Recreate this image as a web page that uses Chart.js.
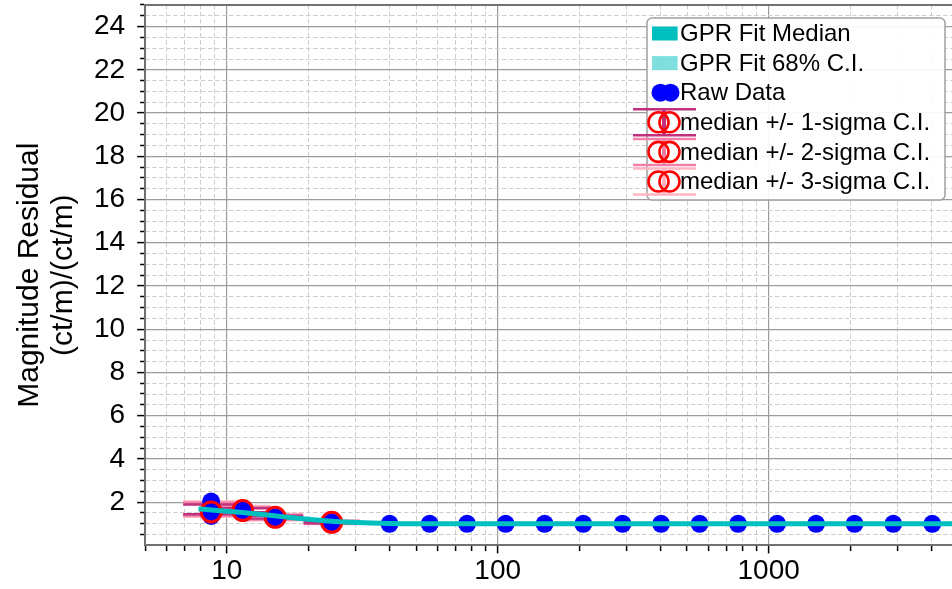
<!DOCTYPE html>
<html>
<head>
<meta charset="utf-8">
<script src="https://cdn.jsdelivr.net/npm/chart.js@4/dist/chart.umd.min.js"></script>
<style>
html,body{margin:0;padding:0;background:#fff;overflow:hidden}
#wrap{width:952px;height:589px;position:relative}
canvas{display:block}
</style>
</head>
<body>
<div id="wrap"><canvas id="c" width="952" height="589"></canvas></div>
<script>
// ---------- data ----------
const rawX = [8.76, 8.76, 8.76, 11.46, 15.1, 24.4, 39.9, 56.1, 77.1, 107, 149, 207, 289, 401, 556, 771, 1075, 1497, 2075, 2884, 4018];
const rawY = [2.03, 1.55, 1.36, 1.61, 1.30, 1.07, 1.0, 1.0, 1.0, 1.0, 1.0, 1.0, 1.0, 1.0, 1.0, 1.0, 1.0, 1.0, 1.0, 1.0, 1.0];

const medX = [8.76, 11.46, 15.1, 24.4];
const medY = [1.55, 1.61, 1.30, 1.07];
const sig1Lo = [1.44, 1.53, 1.24, 1.03];
const sig1Hi = [1.89, 1.72, 1.37, 1.11];
const sig2Lo = [1.38, 1.49, 1.20, 1.01];
const sig2Hi = [1.97, 1.77, 1.41, 1.13];
const sig3Lo = [1.33, 1.45, 1.16, 0.99];
const sig3Hi = [2.03, 1.82, 1.45, 1.15];

const gprX   = [7.87, 9.0, 10.0, 11.5, 13.0, 15.0, 17.5, 20.0, 24.4, 29.0, 34.0, 40.0, 50.0, 70.0, 100, 300, 1000, 3000, 4750];
const gprMed = [1.69, 1.63, 1.58, 1.52, 1.45, 1.37, 1.28, 1.21, 1.12, 1.07, 1.035, 1.012, 1.00, 1.00, 1.00, 1.00, 1.00, 1.00, 1.00];
const gprLo  = [1.59, 1.55, 1.51, 1.46, 1.40, 1.33, 1.25, 1.18, 1.10, 1.05, 1.015, 0.99, 0.98, 0.98, 0.98, 0.98, 0.98, 0.98, 0.98];
const gprHi  = [1.79, 1.71, 1.65, 1.58, 1.50, 1.41, 1.31, 1.24, 1.14, 1.09, 1.055, 1.03, 1.02, 1.02, 1.02, 1.02, 1.02, 1.02, 1.02];

const xMajorTicks = [10, 100, 1000];
const xMinorTicks = [5, 6, 7, 8, 9, 20, 30, 40, 50, 60, 70, 80, 90, 200, 300, 400, 500, 600, 700, 800, 900, 2000, 3000, 4000];
const yMajorTicks = [2, 4, 6, 8, 10, 12, 14, 16, 18, 20, 22, 24];
const yMinorTicks = [0.5, 1, 1.5, 2.5, 3, 3.5, 4.5, 5, 5.5, 6.5, 7, 7.5, 8.5, 9, 9.5, 10.5, 11, 11.5, 12.5, 13, 13.5,
                     14.5, 15, 15.5, 16.5, 17, 17.5, 18.5, 19, 19.5, 20.5, 21, 21.5, 22.5, 23, 23.5, 24.5, 25];

const yTitle = ['Magnitude Residual', '(ct/m)/(ct/m)'];
const seriesLabels = ['GPR Fit Median', 'GPR Fit 68% C.I.', 'Raw Data',
  'median +/- 1-sigma C.I.', 'median +/- 2-sigma C.I.', 'median +/- 3-sigma C.I.'];

// ---------- helpers ----------
const FONT = '"Liberation Sans", Arial, Helvetica, sans-serif';
const pts = (xs, ys) => xs.map((x, i) => ({x: x, y: ys[i]}));
const xAll = xMajorTicks.concat(xMinorTicks).sort((a, b) => a - b);
const yAll = yMajorTicks.concat(yMinorTicks).sort((a, b) => a - b);
const isXMaj = v => xMajorTicks.indexOf(v) >= 0;
const isYMaj = v => yMajorTicks.indexOf(v) >= 0;

const C_TEAL = '#00BFBF', C_TEAL_L = 'rgba(0,191,191,0.5)';
const C_S1 = '#C0307F', C_S2 = '#F27FA6', C_S3 = '#FFB5C3';
const MAJ_GRID = '#9c9c9c', MIN_GRID = '#cdcdcd', SPINE = '#707070';

// ---------- legend plugin ----------
const boxLegend = {
  id: 'boxLegend',
  afterDraw(chart) {
    const ctx = chart.ctx, a = chart.chartArea;
    const ds = chart.data.datasets;
    const right = a.right - 7, top = a.top + 13, w = 298, h = 182, left = right - w;
    ctx.save();
    const r = 5;
    ctx.beginPath();
    ctx.moveTo(left + r, top);
    ctx.arcTo(right, top, right, top + h, r);
    ctx.arcTo(right, top + h, left, top + h, r);
    ctx.arcTo(left, top + h, left, top, r);
    ctx.arcTo(left, top, right, top, r);
    ctx.closePath();
    ctx.fillStyle = 'rgba(255,255,255,0.92)';
    ctx.fill();
    ctx.lineWidth = 1.5;
    ctx.strokeStyle = '#a0a0a0';
    ctx.stroke();

    const labels = [ds[0].label, ds[1].label, ds[4].label, ds[5].label, ds[6].label, ds[7].label];
    const rowY = i => top + 15.5 + i * 29.6;
    const mx = left + 5;
    ctx.fillStyle = C_TEAL; ctx.fillRect(mx, rowY(0) - 7, 25.6, 14);
    ctx.fillStyle = 'rgba(0,191,191,0.5)'; ctx.fillRect(mx, rowY(1) - 7, 25.6, 14);
    ctx.fillStyle = '#0000FF';
    [mx + 8.5, mx + 18.5].forEach(cx => { ctx.beginPath(); ctx.arc(cx, rowY(2), 9, 0, Math.PI * 2); ctx.fill(); });
    [C_S1, C_S2, C_S3].forEach((col, k) => {
      const cy = rowY(3 + k);
      ctx.strokeStyle = col; ctx.lineWidth = 2.5;
      ctx.beginPath(); ctx.moveTo(left - 14, cy - 13); ctx.lineTo(left + 49, cy - 13); ctx.stroke();
      ctx.beginPath(); ctx.moveTo(left - 14, cy + 13); ctx.lineTo(left + 49, cy + 13); ctx.stroke();
      ctx.lineWidth = 4;
      ctx.beginPath(); ctx.moveTo(left + 17, cy - 13); ctx.lineTo(left + 17, cy + 13); ctx.stroke();
      ctx.strokeStyle = '#FF0000'; ctx.lineWidth = 2.6;
      [left + 11.5, left + 22.5].forEach(cx => { ctx.beginPath(); ctx.arc(cx, cy, 10, 0, Math.PI * 2); ctx.stroke(); });
    });
    ctx.fillStyle = '#000';
    ctx.font = '24px ' + FONT;
    ctx.textBaseline = 'middle';
    ctx.textAlign = 'left';
    labels.forEach((t, i) => ctx.fillText(t, left + 33, rowY(i) + 1));
    ctx.restore();
  }
};

// ---------- chart ----------
const capSet = (label, lo, hi, color) => ({
  label: label, data: pts(medX.concat(medX), hi.concat(lo)),
  pointStyle: 'line', pointRadius: 28, pointBorderColor: color, pointBorderWidth: 2.5,
  borderColor: color, showLine: false
});

new Chart(document.getElementById('c'), {
  type: 'scatter',
  data: {
    datasets: [
      { label: seriesLabels[0], data: pts(gprX, gprMed), showLine: true, borderColor: C_TEAL, borderWidth: 5,
        pointRadius: 0, fill: false, cubicInterpolationMode: 'monotone' },
      { label: seriesLabels[1], data: pts(gprX, gprHi), showLine: true, borderWidth: 0, borderColor: 'rgba(0,0,0,0)',
        pointRadius: 0, fill: '+1', backgroundColor: C_TEAL_L, cubicInterpolationMode: 'monotone' },
      { label: '', data: pts(gprX, gprLo), showLine: true, borderWidth: 0, borderColor: 'rgba(0,0,0,0)',
        pointRadius: 0, fill: false, cubicInterpolationMode: 'monotone' },
      { label: 'median', data: pts(medX, medY), pointStyle: 'circle', pointRadius: 10,
        pointBorderColor: '#FF0000', pointBorderWidth: 3, pointBackgroundColor: 'rgba(0,0,0,0)' },
      { label: seriesLabels[2], data: pts(rawX, rawY), pointStyle: 'circle', pointRadius: 9,
        pointBorderWidth: 0, pointBackgroundColor: '#0000FF', pointBorderColor: '#0000FF' },
      capSet(seriesLabels[3], sig1Lo, sig1Hi, C_S1),
      capSet(seriesLabels[4], sig2Lo, sig2Hi, C_S2),
      capSet(seriesLabels[5], sig3Lo, sig3Hi, C_S3)
    ]
  },
  options: {
    responsive: false,
    animation: false,
    events: [],
    layout: { autoPadding: false, padding: { top: 5, left: 0, right: 0, bottom: 0 } },
    plugins: { legend: { display: false }, tooltip: { enabled: false } },
    scales: {
      x: {
        type: 'logarithmic', position: 'bottom', min: 5, max: 4750, bounds: 'data',
        afterBuildTicks: s => { s.ticks = xAll.map(v => ({ value: v })); },
        afterFit: s => { s.paddingLeft = 0; s.paddingRight = 0; },
        ticks: { autoSkip: false, maxRotation: 0, minRotation: 0, color: '#000', padding: 1,
          font: { family: FONT, size: 28 },
          callback: v => isXMaj(v) ? String(v) : '' },
        grid: { color: c => (c.tick && isXMaj(c.tick.value)) ? MAJ_GRID : 'rgba(0,0,0,0)', lineWidth: 1.2,
          tickLength: 8, tickColor: '#000', tickWidth: 1.5,
          tickBorderDash: c => (c.tick && isXMaj(c.tick.value)) ? [] : [5, 20] },
        border: { display: true, color: SPINE, width: 2 }
      },
      xMinor: {
        type: 'logarithmic', position: 'bottom', min: 5, max: 4750, bounds: 'data',
        afterBuildTicks: s => { s.ticks = xMinorTicks.map(v => ({ value: v })); },
        afterFit: s => { s.paddingLeft = 0; s.paddingRight = 0; s.height = 0; },
        ticks: { display: false },
        grid: { color: MIN_GRID, lineWidth: 1, drawTicks: false },
        border: { display: false, dash: [4.5, 2.5] }
      },
      xTop: {
        type: 'linear', position: 'top', min: 0, max: 1,
        afterFit: s => { s.height = 0; s.paddingLeft = 0; s.paddingRight = 0; },
        ticks: { display: false },
        grid: { display: true, color: 'rgba(0,0,0,0)', drawTicks: false },
        border: { display: true, color: SPINE, width: 2 }
      },
      y: {
        type: 'linear', position: 'left', min: 0, max: 25,
        afterBuildTicks: s => { s.ticks = yAll.map(v => ({ value: v })); },
        afterFit: s => { s.paddingTop = 0; s.paddingBottom = 0; },
        ticks: { autoSkip: false, color: '#000', padding: 12,
          font: { family: FONT, size: 28 },
          callback: v => isYMaj(v) ? String(v) : '' },
        grid: { color: c => (c.tick && isYMaj(c.tick.value)) ? MAJ_GRID : 'rgba(0,0,0,0)', lineWidth: 1.2,
          tickLength: 8, tickColor: '#000', tickWidth: 1.5,
          tickBorderDash: c => (c.tick && isYMaj(c.tick.value)) ? [] : [0, 3, 5, 20] },
        border: { display: true, color: SPINE, width: 2 },
        title: { display: true, text: yTitle, color: '#000',
          font: { family: FONT, size: 30, lineHeight: 1.15 },
          padding: { top: 12, bottom: 1 } }
      },
      yMinor: {
        type: 'linear', position: 'left', min: 0, max: 25,
        afterBuildTicks: s => { s.ticks = yMinorTicks.map(v => ({ value: v })); },
        afterFit: s => { s.width = 0; s.paddingTop = 0; s.paddingBottom = 0; },
        ticks: { display: false },
        grid: { color: MIN_GRID, lineWidth: 1, drawTicks: false },
        border: { display: false, dash: [4.5, 2.5] }
      }
    }
  },
  plugins: [boxLegend]
});
</script>
</body>
</html>
